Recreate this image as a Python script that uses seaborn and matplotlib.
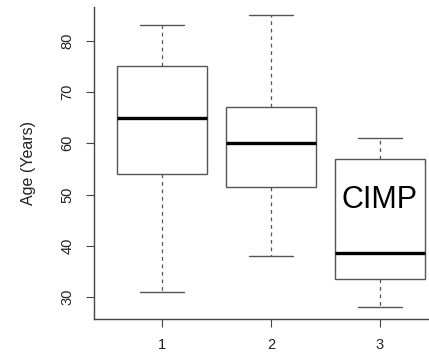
import numpy as np
import pandas as pd
import matplotlib
matplotlib.use("Agg")
import matplotlib.pyplot as plt
import seaborn as sns

groups = ["1", "2", "3"]
# five-number summaries: min, Q1, median, Q3, max
g1 = [31, 54, 65, 75, 83]
g2 = [38, 51.5, 60, 67, 85]
g3 = [28, 33.5, 38.5, 57, 61]
yticks = [30, 40, 50, 60, 70, 80]

df = pd.DataFrame({
    "group": ["1"] * len(g1) + ["2"] * len(g2) + ["3"] * len(g3),
    "age": g1 + g2 + g3,
})

sns.set_style("white")
plt.rcParams["font.family"] = ["Liberation Sans", "DejaVu Sans"]

fig = plt.figure(figsize=(4.29, 3.54), dpi=100)
ax = fig.add_axes([94 / 429, 1 - 319 / 354, 1 - 94 / 429, (319 - 7) / 354])

edge = "#555555"
sns.boxplot(data=df, x="group", y="age", order=groups, ax=ax,
            width=0.82, whis=np.inf, color="white", linecolor=edge,
            boxprops=dict(facecolor="white", edgecolor=edge, linewidth=1.0),
            whiskerprops=dict(color=edge, linewidth=0.9, linestyle=(0, (3, 3))),
            capprops=dict(color=edge, linewidth=1.0),
            medianprops=dict(color="black", linewidth=2.4),
            capwidths=0.4)

ax.set_xlim(-0.624, 2.45)
ax.set_ylim(25.7, 86.6)
ax.set_yticks(yticks)
ax.set_yticklabels([str(t) for t in yticks], rotation=90, va="center", fontsize=10.5)
ax.set_xticks(range(len(groups)))
ax.set_xticklabels(groups, fontsize=10.5)
ax.tick_params(axis="both", which="both", direction="out", length=6, width=0.8,
               color="#444444", labelcolor="#222222", left=True, bottom=True)
ax.tick_params(axis="x", pad=8)
ax.tick_params(axis="y", pad=8)
ax.set_xlabel("")
ax.set_ylabel("Age (Years)", fontsize=11.5, color="#222222", labelpad=18)
for s in ["top", "right"]:
    ax.spines[s].set_visible(False)
for s in ["left", "bottom"]:
    ax.spines[s].set_color("#444444")
    ax.spines[s].set_linewidth(1.0)

ax.text(2, 49.0, "CIMP", ha="center", va="center", fontsize=22, color="black")

fig.savefig("out.png", dpi=100)
